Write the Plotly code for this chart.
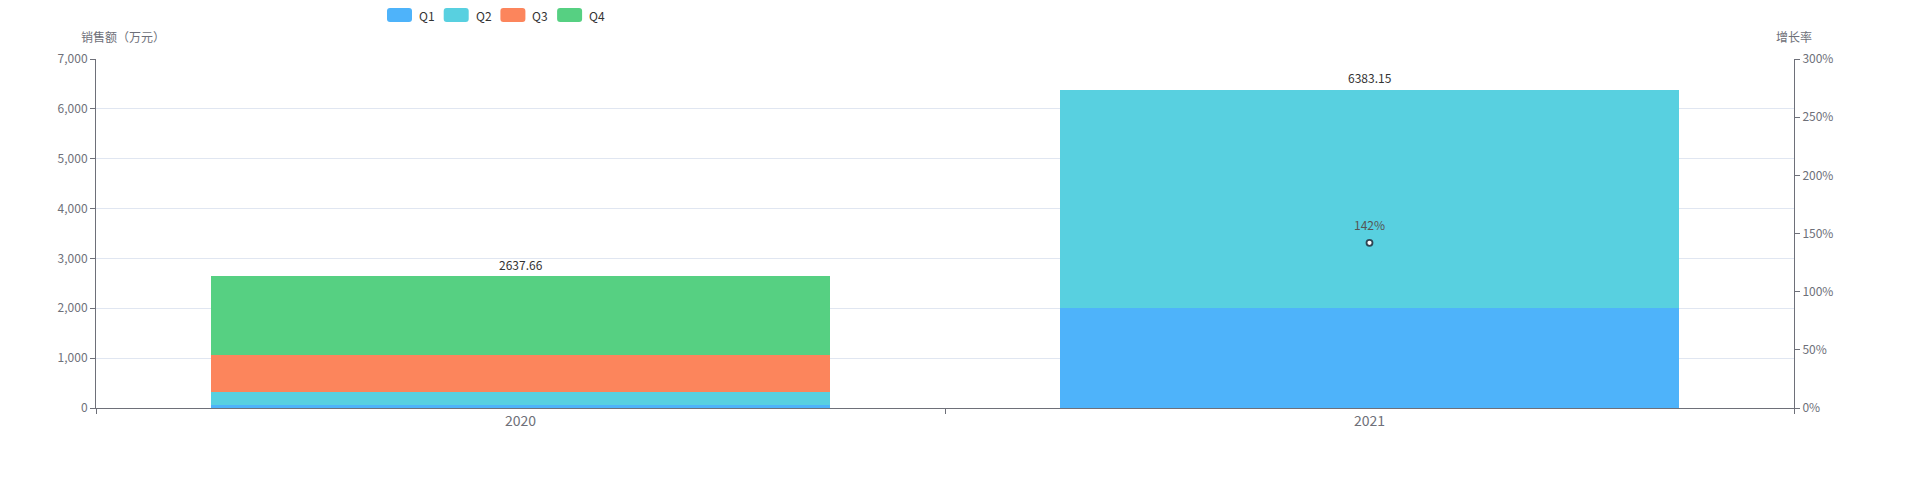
import plotly.graph_objects as go

years = ["2020", "2021"]
q1 = [60, 2000]
q2 = [270, 4383.15]
q3 = [740, None]
q4 = [1567.66, None]
totals = [2637.66, 6383.15]
growth = [None, 142]
growth_labels = ["", "142%"]

series_names = ["Q1", "Q2", "Q3", "Q4"]
series_vals = [q1, q2, q3, q4]
colors = ["#4EB3FA", "#58D0E0", "#FC855C", "#56D082"]

FONT = "Noto Sans CJK SC, Microsoft YaHei, sans-serif"
AXC = "#6E7079"

# page has an 8px body margin; plot area in page pixels:
OFF = 8
W, H = 1895, 484
L, R, T, B = 96, 1794, 59, 408


def px(x):
    return (x - L) / (R - L)


def py(y):
    return (B - y) / (B - T)


def rounded_rect(x0, y0, x1, y1, r):
    X0, X1, Xa, Xb = px(x0), px(x1), px(x0 + r), px(x1 - r)
    Y0, Y1, Ya, Yb = py(y0), py(y1), py(y0 + r), py(y1 - r)
    return (f"M {Xa},{Y0} L {Xb},{Y0} Q {X1},{Y0} {X1},{Ya} L {X1},{Yb} "
            f"Q {X1},{Y1} {Xb},{Y1} L {Xa},{Y1} Q {X0},{Y1} {X0},{Yb} "
            f"L {X0},{Ya} Q {X0},{Y0} {Xa},{Y0} Z")


fig = go.Figure()
for name, vals, c in zip(series_names, series_vals, colors):
    fig.add_trace(go.Bar(
        x=years, y=vals, name=name, marker=dict(color=c, line=dict(width=0)),
        width=0.73, hoverinfo="skip", showlegend=False))

fig.add_trace(go.Scatter(
    x=years, y=growth, yaxis="y2", mode="markers",
    marker=dict(symbol="circle", size=6, color="#ffffff",
                line=dict(color="#2F4554", width=1.8)),
    showlegend=False, hoverinfo="skip", cliponaxis=False))

annotations = []
for i, t in enumerate(totals):
    annotations.append(dict(
        x=i, y=t, xref="x", yref="y", text=f"{t:.2f}", showarrow=False,
        yanchor="middle", yshift=12, font=dict(size=12, color="#333333")))
for i, (g, lab) in enumerate(zip(growth, growth_labels)):
    if g is None:
        continue
    annotations.append(dict(
        x=i, y=g, xref="x", yref="y2", text=lab, showarrow=False,
        yanchor="middle", yshift=18, font=dict(size=12, color="#555555")))

annotations += [
    dict(text="销售额（万元）", xref="paper", yref="paper",
         x=px(123), y=py(37), xanchor="center", yanchor="middle",
         showarrow=False, font=dict(size=12, color=AXC)),
    dict(text="增长率", xref="paper", yref="paper",
         x=px(1794), y=py(37), xanchor="center", yanchor="middle",
         showarrow=False, font=dict(size=12, color=AXC)),
]

# custom legend (rounded rect icons like the original)
shapes = []
leg_x0 = 387
leg_step = 56.7
for i, (name, c) in enumerate(zip(series_names, colors)):
    x0 = leg_x0 + i * leg_step
    shapes.append(dict(type="path", xref="paper", yref="paper",
                       path=rounded_rect(x0, 8, x0 + 25, 22, 3),
                       fillcolor=c, line=dict(width=0), layer="above"))
    annotations.append(dict(text=name, xref="paper", yref="paper",
                            x=px(x0 + 30), y=py(15), xanchor="left",
                            yanchor="middle", showarrow=False,
                            font=dict(size=12, color="#333333")))

fig.update_layout(
    width=W, height=H,
    barmode="stack",
    paper_bgcolor="white", plot_bgcolor="white",
    font=dict(family=FONT, size=12, color=AXC),
    margin=dict(l=L - OFF, r=OFF + W - R, t=T - OFF, b=OFF + H - B, autoexpand=False),
    showlegend=False,
    xaxis=dict(type="category", range=[-0.5, len(years) - 0.5],
               showline=True, linecolor=AXC, linewidth=1,
               ticks="outside", ticklen=5, tickcolor=AXC, tickson="boundaries",
               showgrid=False, zeroline=False, tickangle=0,
               tickfont=dict(size=14, color=AXC)),
    yaxis=dict(range=[0, 7000], dtick=1000, tickformat=",", showline=True,
               linecolor=AXC, ticks="outside", ticklen=5, tickcolor=AXC,
               showgrid=True, gridcolor="#E0E6F1", zeroline=False,
               tickfont=dict(size=12, color=AXC)),
    yaxis2=dict(range=[0, 300], dtick=50, ticksuffix="%", overlaying="y",
                side="right", showline=True, linecolor=AXC, ticks="outside",
                ticklen=5, tickcolor=AXC, showgrid=False, zeroline=False,
                tickfont=dict(size=12, color=AXC)),
    annotations=annotations,
    shapes=shapes,
)

fig.write_html("out.html")
